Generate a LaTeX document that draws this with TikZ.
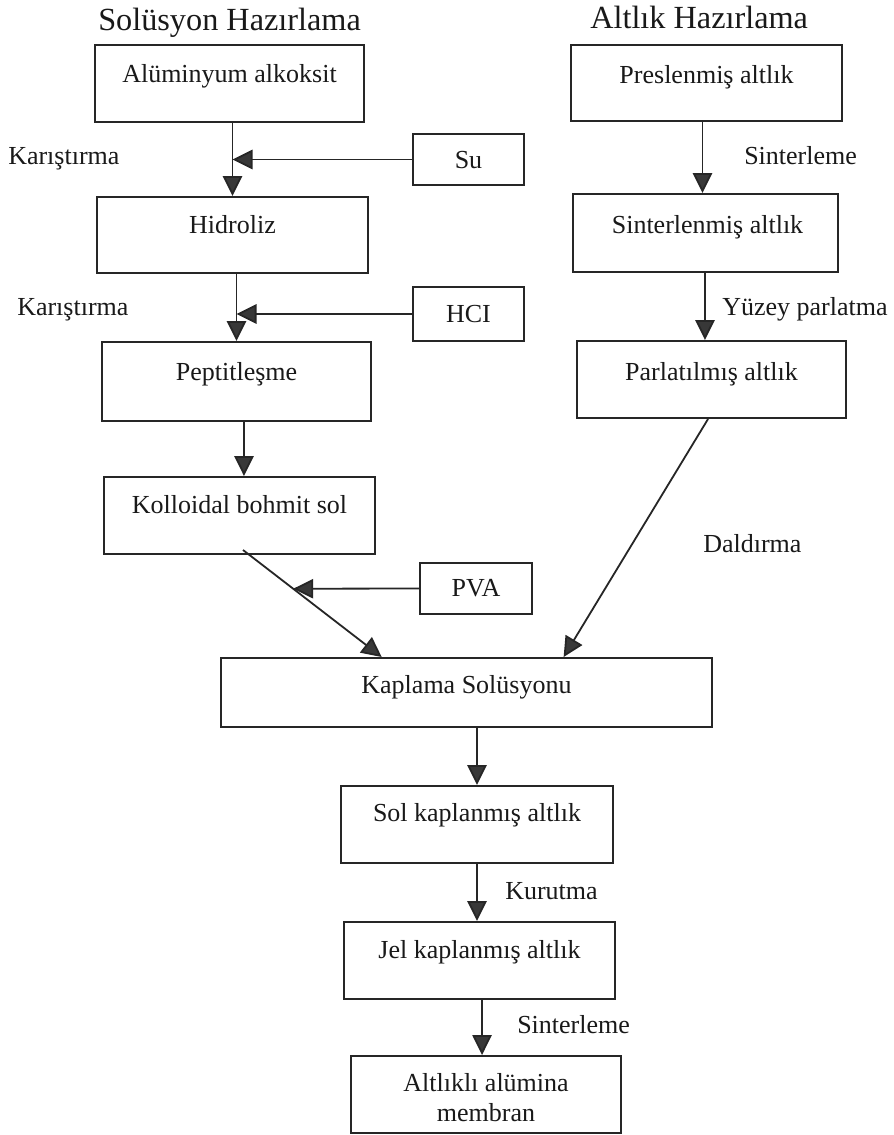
\documentclass[tikz,border=0pt]{standalone}
\usepackage{fontspec}
\setmainfont{Liberation Serif}
\usetikzlibrary{arrows.meta,calc}
\begin{document}
\begin{tikzpicture}[x=0.75pt,y=-0.75pt,
  box/.style={draw=black!85, line width=1.5pt, rectangle, inner sep=0pt},
  txt/.style={font=\fontsize{19.5}{23}\selectfont, anchor=base, inner sep=0pt, text=black!90},
  ttl/.style={font=\fontsize{24.2}{28}\selectfont, anchor=base west, inner sep=0pt, text=black!90},
  lbl/.style={txt, anchor=base west},
  arr/.style={draw=black!85, line width=1.35pt, -{Triangle[length=15pt,width=14.5pt,fill=black!78]}}]
\useasboundingbox[fill=white] (0,0) rectangle (893,1135);

% boxes
\node[box, minimum width=201.75pt, minimum height=57.75pt] (alk) at (229.5,83.5) {};
\node[box, minimum width=83.25pt, minimum height=38.25pt] (su) at (468.5,159.5) {};
\node[box, minimum width=203.25pt, minimum height=57pt] (hid) at (232.5,235) {};
\node[box, minimum width=83.25pt, minimum height=40.5pt] (hcl) at (468.5,314) {};
\node[box, minimum width=201.75pt, minimum height=59.25pt] (pep) at (236.5,381.5) {};
\node[box, minimum width=203.25pt, minimum height=57.75pt] (kol) at (239.5,515.5) {};
\node[box, minimum width=84pt, minimum height=38.25pt] (pva) at (476,588.5) {};
\node[box, minimum width=368.25pt, minimum height=51.75pt] (kap) at (466.5,692.5) {};
\node[box, minimum width=204pt, minimum height=57.75pt] (sol) at (477,824.5) {};
\node[box, minimum width=203.25pt, minimum height=57.75pt] (jel) at (479.5,960.5) {};
\node[box, minimum width=202.5pt, minimum height=57.75pt] (alt) at (486,1094.5) {};
\node[box, minimum width=203.25pt, minimum height=57pt] (pre) at (706.5,83) {};
\node[box, minimum width=198.75pt, minimum height=58.5pt] (sin) at (705.5,233) {};
\node[box, minimum width=201.75pt, minimum height=57.75pt] (par) at (711.5,379.5) {};

% box texts
\node[txt] (alkt) at (229.5,82) {Alüminyum alkoksit};
\node[txt] (sut) at (468.5,168) {Su};
\node[txt] (hidt) at (232.5,233) {Hidroliz};
\node[txt] (hclt) at (468.5,322) {HCI};
\node[txt] (pept) at (236.5,380) {Peptitleşme};
\node[txt] (kolt) at (239.5,513) {Kolloidal bohmit sol};
\node[txt] (pvat) at (476,596) {PVA};
\node[txt] (kapt) at (466.5,693) {Kaplama Solüsyonu};
\node[txt] (solt) at (477,821) {Sol kaplanmış altlık};
\node[txt] (jelt) at (479.5,958) {Jel kaplanmış altlık};
\node[txt] (alt1) at (486,1091) {Altlıklı alümina};
\node[txt] (alt2) at (486,1121) {membran};
\node[txt] (pret) at (706.5,83) {Preslenmiş altlık};
\node[txt] (sint) at (707.5,233) {Sinterlenmiş altlık};
\node[txt] (part) at (711.5,380) {Parlatılmış altlık};

% titles
\node[ttl] (t1) at (98,30) {Solüsyon Hazırlama};
\node[ttl] (t2) at (590,28) {Altlık Hazırlama};

% labels
\node[lbl] (l1) at (8,164) {Karıştırma};
\node[lbl] (l2) at (17,315) {Karıştırma};
\node[lbl] (l3) at (744,164) {Sinterleme};
\node[lbl] (l4) at (722,315) {Yüzey parlatma};
\node[lbl] (l5) at (703,552) {Daldırma};
\node[lbl] (l6) at (505,899) {Kurutma};
\node[lbl] (l7) at (517,1033) {Sinterleme};

% connectors
\draw[arr] (alk.south -| hid.north) -- (hid.north);
\draw[arr] (su.west) -- (su.west -| hid.north);
\draw[arr] (hid.south -| pep.north) -- (pep.north);
\draw[arr] (hcl.west) -- (hcl.west -| pep.north);
\draw[arr] ([xshift=5.6pt]pep.south) -- ([xshift=5.6pt]pep.south |- kol.north);
\coordinate (kolout) at ($(kol.south)+(3.5,-5)$);
\coordinate (kapin) at ($(kap.north west)!0.328!(kap.north east)$);
\draw[arr] (kolout) -- (kapin);
\draw[arr] (pva.west) -- ($(kolout)!0.362!(kapin)$);
\draw[arr] ([xshift=-2.6pt]par.south) -- ($(kap.north west)!0.697!(kap.north east)$);
\draw[arr] (kap.south -| sol.north) -- (sol.north);
\draw[arr] (sol.south) -- (sol.south |- jel.north);
\draw[arr] ([xshift=1.9pt]jel.south) -- ([xshift=1.9pt]jel.south |- alt.north);
\draw[arr] ([xshift=-3pt]pre.south) -- ([xshift=-3pt]pre.south |- sin.north);
\draw[arr] ([xshift=-0.4pt]sin.south) -- ([xshift=-0.4pt]sin.south |- par.north);
\end{tikzpicture}
\end{document}
